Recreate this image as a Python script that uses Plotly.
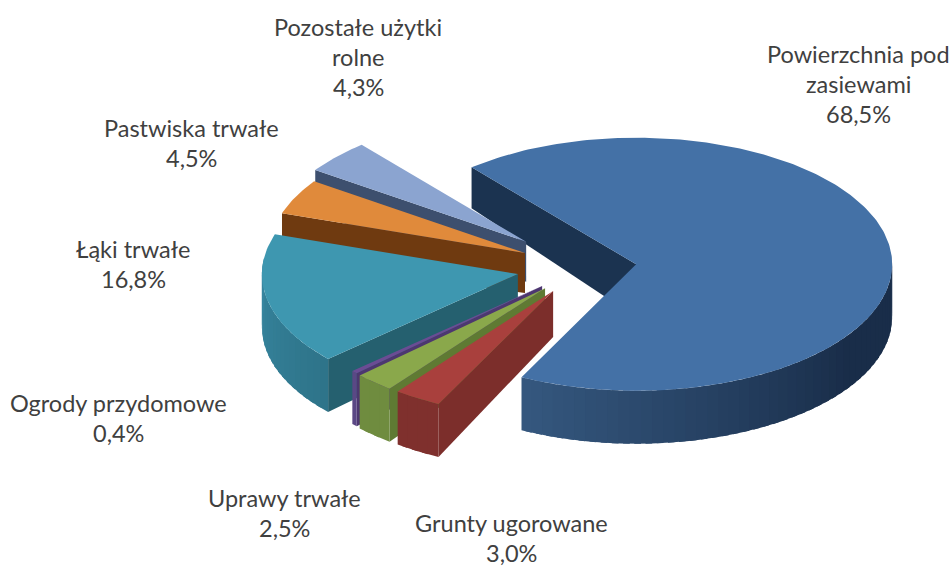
import numpy as np
import plotly.graph_objects as go

# ---- data ----
categories = ["Powierzchnia pod zasiewami", "Grunty ugorowane", "Uprawy trwałe", "Ogrody przydomowe",
              "Łąki trwałe", "Pastwiska trwałe", "Pozostałe użytki rolne"]
values = [68.5, 3.0, 2.5, 0.4, 16.8, 4.5, 4.3]

# ---- label text layout (one entry of lines per slice) ----
label_lines = [["Powierzchnia pod", "zasiewami"], ["Grunty ugorowane"], ["Uprawy trwałe"], ["Ogrody przydomowe"],
               ["Łąki trwałe"], ["Pastwiska trwałe"], ["Pozostałe użytki", "rolne"]]
label_x = [858, 511, 284.5, 118.5, 133, 191, 358]
label_y = [53.5, 522.5, 497.5, 402.5, 248.5, 127.5, 26.5]
LINE = 30.4

# ---- style / 3D pie geometry ----
top_col = ["#4471a6", "#a9403d", "#8aa84b", "#6b4c94", "#3e97b0", "#e08a3b", "#8ba4d0"]
radial_col = ["#1b3350", "#7c2e2b", "#5f7a33", "#4d3770", "#25606f", "#6f3a10", "#3d4f6e"]
outer_near = ["#35587f", "#7f302d", "#6f8c3f", "#5b4885", "#2e7489", "#8a4a18", "#4f6488"]
outer_far = ["#192d49", "#7f302d", "#6f8c3f", "#5b4885", "#3a8ba6", "#8a4a18", "#4f6488"]
pull = [0.209, 0.22, 0.222, 0.218, 0.26, 0.253, 0.30]
apex_depth = [53, 46, 46, 46, 46, 40, 40]
CX, CY = 583.0, 267.3
A, B = 256.0, 126.5
DEPTH = 53.0
START = 130.0
draw_order = [0, 6, 5, 4, 3, 2, 1]


def hex_rgb(h):
    return np.array([int(h[i:i + 2], 16) for i in (1, 3, 5)], dtype=float)


def mix(c1, c2, f):
    c = hex_rgb(c1) * (1 - f) + hex_rgb(c2) * f
    return "rgb(%d,%d,%d)" % tuple(c.round())


def poly(fig, xs, ys, color):
    fig.add_trace(go.Scatter(x=list(xs) + [xs[0]], y=list(ys) + [ys[0]], mode="lines", fill="toself",
                             fillcolor=color, line=dict(color=color, width=0),
                             hoverinfo="skip", showlegend=False))


def rim_depth(deg):
    return DEPTH - 15.7 * max(0.0, np.sin(np.radians(deg)))


fig = go.Figure()
sweeps = np.array(values) / sum(values) * 360
ends = START - np.cumsum(sweeps)
starts = ends + sweeps

for i in draw_order:
    t0, t1 = starts[i], ends[i]
    mid = np.radians((t0 + t1) / 2)
    ax = CX + pull[i] * A * np.cos(mid)
    ay = CY - pull[i] * B * np.sin(mid)

    def rim(deg):
        return ax + A * np.cos(np.radians(deg)), ay - B * np.sin(np.radians(deg))

    # radial wall on the starting side
    sx, sy = rim(t0)
    poly(fig, [ax, sx, sx, ax], [ay, sy, sy + rim_depth(t0), ay + apex_depth[i]], radial_col[i])

    # outer wall: shaded strips along the visible rim, each running under the next to hide seams
    ts = np.linspace(t0, t1, max(2, int((t0 - t1) / 2.5) + 1))
    ts = ts[np.sin(np.radians(ts)) < 0.1]
    for a0, a1 in zip(ts[:-1], ts[1:]):
        am = (a0 + a1) / 2
        if i == 0:
            f = np.clip((am + 116.6) / (116.6 - 35), 0, 1)
        else:
            f = (t0 - am) / (t0 - t1)
        arc = np.linspace(a0, max(a1 - 1.5, t1), 5)
        px, py = rim(arc)
        dep = np.array([rim_depth(a) for a in arc])
        poly(fig, list(px) + list(px[::-1]), list(py) + list((py + dep)[::-1]),
             mix(outer_near[i], outer_far[i], f))

    # top face
    ts = np.linspace(t0, t1, max(3, int(t0 - t1) + 2))
    rx, ry = rim(ts)
    poly(fig, [ax] + list(rx), [ay] + list(ry), top_col[i])

annotations = []
for i in range(len(categories)):
    lines = label_lines[i] + [f"{values[i]:.1f}%".replace(".", ",")]
    for k, line in enumerate(lines):
        annotations.append(dict(x=label_x[i], y=label_y[i] + k * LINE, text=line, showarrow=False,
                                xanchor="center", yanchor="middle", xref="x", yref="y",
                                font=dict(family="Lato, Carlito, sans-serif", size=23.5, color="#404040")))

fig.update_layout(width=951, height=567, margin=dict(l=0, r=0, t=0, b=0), paper_bgcolor="white",
                  plot_bgcolor="white", showlegend=False, annotations=annotations,
                  xaxis=dict(range=[0, 951], visible=False, fixedrange=True),
                  yaxis=dict(range=[567, 0], visible=False, fixedrange=True))
fig.write_html("out.html", post_script="document.body.style.margin='0';", config={"displayModeBar": False})
